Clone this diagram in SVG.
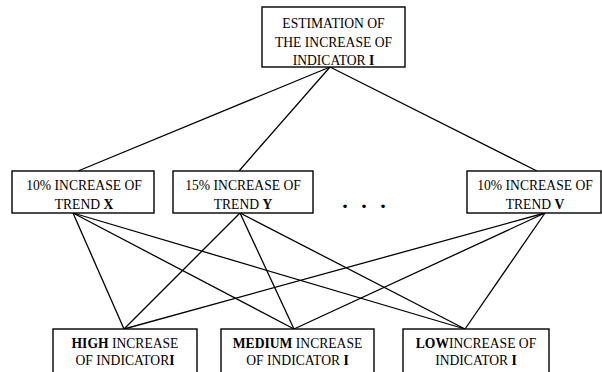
<svg xmlns="http://www.w3.org/2000/svg" width="602" height="372" viewBox="0 0 602 372" font-family="Liberation Serif, DejaVu Serif, serif">
<style>
.box{fill:#fff;stroke:#000;stroke-width:1.4}
.t{font-size:13.6px;fill:#000;text-anchor:middle}
.b{font-weight:bold}
.c line{stroke:#000;stroke-width:1.3}
</style>
<rect width="602" height="372" fill="#fff"/>
<g class="c" id="connectors">
<line x1="330" y1="67" x2="78" y2="171"/>
<line x1="330" y1="67" x2="239" y2="171"/>
<line x1="330" y1="67" x2="537" y2="171"/>
<line x1="73" y1="213" x2="124" y2="329"/>
<line x1="73" y1="213" x2="294" y2="329"/>
<line x1="73" y1="213" x2="465" y2="329"/>
<line x1="240" y1="213" x2="124" y2="329"/>
<line x1="240" y1="213" x2="294" y2="329"/>
<line x1="240" y1="213" x2="465" y2="329"/>
<line x1="545" y1="213" x2="124" y2="329"/>
<line x1="545" y1="213" x2="294" y2="329"/>
<line x1="545" y1="213" x2="465" y2="329"/>
</g>
<g id="top">
<rect class="box" x="262" y="7" width="143" height="60"/>
<text class="t" x="333.5" y="28">ESTIMATION OF</text>
<text class="t" x="333.5" y="46.5">THE INCREASE OF</text>
<text class="t" x="333.5" y="65">INDICATOR <tspan class="b">I</tspan></text>
</g>
<g id="trendX">
<rect class="box" x="12" y="171" width="142" height="42"/>
<text class="t" x="84" y="190">10% INCREASE OF</text>
<text class="t" x="84" y="208.5">TREND <tspan class="b">X</tspan></text>
</g>
<g id="trendY">
<rect class="box" x="173" y="171" width="140" height="42"/>
<text class="t" x="243" y="190">15% INCREASE OF</text>
<text class="t" x="243" y="208.5">TREND <tspan class="b">Y</tspan></text>
</g>
<g id="dots">
<text class="t b" x="366" y="208" style="font-size:22px" letter-spacing="4">. . .</text>
</g>
<g id="trendV">
<rect class="box" x="467" y="171" width="134" height="42"/>
<text class="t" x="535" y="190">10% INCREASE OF</text>
<text class="t" x="535" y="208.5">TREND <tspan class="b">V</tspan></text>
</g>
<g id="high">
<rect class="box" x="53" y="329" width="144" height="50"/>
<text class="t" x="125" y="348"><tspan class="b">HIGH</tspan> INCREASE</text>
<text class="t" x="125" y="365">OF INDICATOR<tspan class="b">I</tspan></text>
</g>
<g id="medium">
<rect class="box" x="221" y="329" width="153" height="50"/>
<text class="t" x="297.5" y="348"><tspan class="b">MEDIUM</tspan> INCREASE</text>
<text class="t" x="297.5" y="365">OF INDICATOR <tspan class="b">I</tspan></text>
</g>
<g id="low">
<rect class="box" x="403" y="329" width="146" height="50"/>
<text class="t" x="476" y="348"><tspan class="b">LOW</tspan>INCREASE OF</text>
<text class="t" x="476" y="365">INDICATOR <tspan class="b">I</tspan></text>
</g>
</svg>
